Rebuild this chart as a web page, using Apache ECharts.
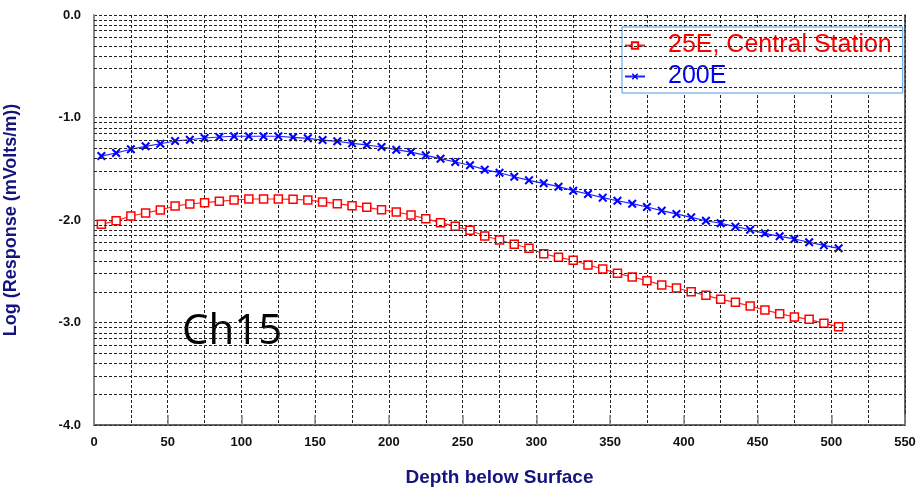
<!DOCTYPE html>
<html>
<head>
<meta charset="utf-8">
<script src="https://cdn.jsdelivr.net/npm/echarts@6/dist/echarts.min.js"></script>
<style>
  html, body { margin: 0; padding: 0; background: #fff; }
  #chart { width: 922px; height: 487px; }
</style>
</head>
<body>
<div id="chart"></div>
<script>
// Depth samples (every 10 units)
const depths = [5, 15, 25, 35, 45, 55, 65, 75, 85, 95, 105, 115, 125, 135, 145, 155, 165, 175, 185, 195,
  205, 215, 225, 235, 245, 255, 265, 275, 285, 295, 305, 315, 325, 335, 345, 355, 365, 375, 385, 395,
  405, 415, 425, 435, 445, 455, 465, 475, 485, 495, 505];

// Log response, station 25E (central)
const station25E = [-2.042, -2.007, -1.961, -1.932, -1.902, -1.863, -1.844, -1.831, -1.818, -1.805,
  -1.795, -1.795, -1.795, -1.798, -1.805, -1.824, -1.841, -1.860, -1.876, -1.900,
  -1.922, -1.951, -1.987, -2.026, -2.062, -2.100, -2.156, -2.195, -2.237, -2.276,
  -2.329, -2.364, -2.393, -2.439, -2.478, -2.520, -2.556, -2.592, -2.634, -2.663,
  -2.700, -2.735, -2.774, -2.803, -2.839, -2.878, -2.914, -2.946, -2.969, -3.008, -3.041];

// Log response, station 200E
const station200E = [-1.376, -1.346, -1.310, -1.281, -1.256, -1.229, -1.217, -1.200, -1.190, -1.183,
  -1.183, -1.183, -1.183, -1.193, -1.203, -1.220, -1.232, -1.252, -1.268, -1.288,
  -1.314, -1.337, -1.369, -1.402, -1.434, -1.466, -1.509, -1.539, -1.578, -1.613,
  -1.642, -1.675, -1.714, -1.746, -1.782, -1.812, -1.841, -1.873, -1.909, -1.941,
  -1.974, -2.007, -2.032, -2.065, -2.095, -2.130, -2.159, -2.185, -2.217, -2.247, -2.276];

const seriesNames = ['25E, Central Station', '200E'];
const seriesColors = ['#ff0000', '#0000ff'];
const yDecades = [-4, -3, -2, -1];               // decade starts on the log axis
const logMultipliers = [2, 3, 4, 5, 6, 7, 8, 9]; // minor log gridlines within each decade

const pairs = (xs, ys) => xs.map((x, i) => [x, ys[i]]);

// minor log-cycle gridlines
const minorLines = [];
yDecades.forEach(d => logMultipliers.forEach(k => minorLines.push({ yAxis: d + Math.log10(k) })));

const FONT = 'Liberation Sans, Arial, sans-serif';
const dash = { color: '#222', width: 1, type: [3, 2] };
const xMarker = 'path://M0,1.6 L1.6,0 L5,3.4 L8.4,0 L10,1.6 L6.6,5 L10,8.4 L8.4,10 L5,6.6 L1.6,10 L0,8.4 L3.4,5 Z';

const chart = echarts.init(document.getElementById('chart'), null, { renderer: 'canvas' });
chart.setOption({
  animation: false,
  backgroundColor: '#fff',
  grid: { left: 94, right: 17, top: 15, bottom: 62, containLabel: false, outerBoundsMode: 'none' },
  legend: {
    orient: 'vertical',
    left: 622, top: 27,
    backgroundColor: '#fff',
    borderColor: '#4f9ae6',
    borderWidth: 1,
    padding: [6, 11, 4, 2],
    itemWidth: 20, itemHeight: 8,
    itemGap: 6,
    textStyle: { fontFamily: FONT, fontSize: 25, lineHeight: 25, padding: [0, 0, 0, 18] },
    data: [
      { name: seriesNames[0], textStyle: { color: seriesColors[0] } },
      { name: seriesNames[1], textStyle: { color: seriesColors[1] } }
    ]
  },
  xAxis: {
    type: 'value', min: 0, max: 550, interval: 50,
    name: 'Depth below Surface', nameLocation: 'middle', nameGap: 43,
    nameTextStyle: { color: '#14147e', fontWeight: 'bold', fontSize: 19, fontFamily: FONT },
    axisLine: { show: true, onZero: false, lineStyle: { color: '#333', width: 1.5 } },
    axisTick: { show: true, inside: true, length: 10, lineStyle: { color: '#888', width: 1.5 } },
    axisLabel: { color: '#111', fontWeight: 'bold', fontSize: 13, margin: 11, fontFamily: FONT },
    splitLine: { show: true, lineStyle: dash },
    minorTick: { show: false, splitNumber: 2 },
    minorSplitLine: { show: true, lineStyle: dash }
  },
  yAxis: [{
    type: 'value', min: -4, max: 0, interval: 1,
    name: 'Log (Response (mVolts/m))', nameLocation: 'middle', nameGap: 74, nameRotate: 90,
    nameTextStyle: { color: '#14147e', fontWeight: 'bold', fontSize: 18, fontFamily: FONT },
    axisLine: { show: true, onZero: false, lineStyle: { color: '#8a8a8a', width: 2 } },
    axisTick: { show: false },
    axisLabel: { color: '#111', fontWeight: 'bold', fontSize: 13, margin: 13, fontFamily: FONT,
      formatter: v => v.toFixed(1) },
    splitLine: { show: true, lineStyle: dash }
  }, {
    type: 'value', min: -4, max: 0, interval: 1, position: 'right',
    axisLine: { show: true, onZero: false, lineStyle: { color: '#333', width: 1.5 } },
    axisTick: { show: false }, axisLabel: { show: false }, splitLine: { show: false }
  }],
  graphic: [{
    type: 'text', left: 182, top: 311,
    style: { text: 'Ch15', fontSize: 42, fontFamily: 'Open Sans, Noto Sans, sans-serif', fill: '#000' }
  }],
  series: [{
    name: seriesNames[0], type: 'line',
    data: pairs(depths, station25E),
    symbol: 'rect', symbolSize: 8,
    itemStyle: { color: '#fff', borderColor: seriesColors[0], borderWidth: 1.5 },
    lineStyle: { color: '#ff2020', width: 1.2 },
    z: 3,
    markLine: {
      silent: true, symbol: 'none', animation: false,
      label: { show: false },
      lineStyle: dash,
      emphasis: { disabled: true },
      data: minorLines
    }
  }, {
    name: seriesNames[1], type: 'line',
    data: pairs(depths, station200E),
    symbol: xMarker, symbolSize: 9,
    itemStyle: { color: seriesColors[1] },
    lineStyle: { color: '#2020ff', width: 1.2 },
    z: 3
  }]
});
</script>
</body>
</html>
